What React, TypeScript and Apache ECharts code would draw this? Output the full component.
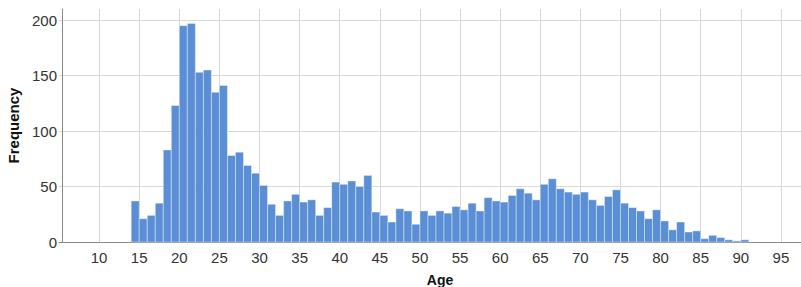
import React, { useEffect, useRef } from "react";
import * as echarts from "echarts";

// Histogram bins: each bin covers [binStart, binStart + 1)
const binStarts: number[] = [
  14, 15, 16, 17, 18, 19, 20, 21, 22, 23, 24, 25, 26, 27, 28, 29, 30, 31, 32, 33,
  34, 35, 36, 37, 38, 39, 40, 41, 42, 43, 44, 45, 46, 47, 48, 49, 50, 51, 52, 53,
  54, 55, 56, 57, 58, 59, 60, 61, 62, 63, 64, 65, 66, 67, 68, 69, 70, 71, 72, 73,
  74, 75, 76, 77, 78, 79, 80, 81, 82, 83, 84, 85, 86, 87, 88, 89, 90,
];
const frequencies: number[] = [
  37, 21, 24, 35, 83, 123, 195, 197, 153, 155, 135, 141, 78, 81, 69, 62, 51, 34, 24, 37,
  43, 36, 38, 24, 31, 54, 52, 55, 50, 60, 27, 24, 18, 30, 28, 16, 28, 24, 28, 26,
  32, 29, 35, 28, 40, 37, 36, 42, 48, 44, 38, 52, 57, 48, 45, 43, 45, 38, 33, 41,
  47, 35, 31, 28, 21, 29, 19, 11, 18, 9, 10, 3, 6, 4, 2, 1, 2,
];
const binWidth = 1;
const xTickValues: number[] = [10, 15, 20, 25, 30, 35, 40, 45, 50, 55, 60, 65, 70, 75, 80, 85, 90, 95];
const yTickValues: number[] = [0, 50, 100, 150, 200];

export default function App() {
  const ref = useRef<HTMLDivElement>(null);
  useEffect(() => {
    if (!ref.current) return;
    const chart = echarts.init(ref.current, undefined, { renderer: "svg" });
    const font = "'Liberation Sans', Arial, sans-serif";
    chart.setOption({
      animation: false,
      backgroundColor: "#ffffff",
      grid: { left: 59, right: -20, top: 9, bottom: 45, outerBoundsMode: "none", containLabel: false },
      xAxis: {
        type: "value",
        min: 5,
        max: 100,
        interval: 5,
        name: "Age",
        nameLocation: "middle",
        nameGap: 31,
        nameTextStyle: { fontFamily: font, fontWeight: "bold", fontSize: 14, color: "#111" },
        axisLine: { show: true, onZero: false, lineStyle: { color: "#8a8a8a", width: 1 } },
        axisTick: { show: false },
        axisLabel: {
          fontFamily: font,
          fontSize: 15,
          color: "#333",
          margin: 8,
          showMinLabel: false,
          formatter: (v: number) => (xTickValues.indexOf(v) >= 0 ? String(v) : ""),
        },
        splitLine: {
          show: true,
          showMinLine: false,
          lineStyle: { color: "#d8d8d8", width: 1 },
        },
      },
      yAxis: {
        type: "value",
        min: 0,
        max: 210,
        interval: 50,
        offset: -3,
        name: "Frequency",
        nameLocation: "middle",
        nameRotate: 90,
        nameGap: 35,
        nameTextStyle: { fontFamily: font, fontWeight: "bold", fontSize: 15, color: "#111" },
        axisLine: { show: true, lineStyle: { color: "#8a8a8a", width: 1 } },
        axisTick: { show: false },
        axisLabel: {
          fontFamily: font,
          fontSize: 15,
          color: "#333",
          margin: 5,
          showMaxLabel: false,
          formatter: (v: number) => (yTickValues.indexOf(v) >= 0 ? String(v) : ""),
        },
        splitLine: {
          show: true,
          showMaxLine: false,
          lineStyle: { color: "#d8d8d8", width: 1 },
        },
      },
      series: [
        {
          type: "custom",
          encode: { x: 0, y: 1 },
          data: binStarts.map((s, i) => [s, frequencies[i]]),
          renderItem: (params: any, api: any) => {
            const start = api.value(0);
            const val = api.value(1);
            const p0 = api.coord([start, 0]);
            const p1 = api.coord([start + binWidth, val]);
            return {
              type: "rect",
              shape: {
                x: p0[0],
                y: p1[1],
                width: p1[0] - p0[0],
                height: p0[1] - p1[1],
              },
              style: {
                fill: "#5a8ed5",
                stroke: "rgba(255,255,255,0.4)",
                lineWidth: 1,
              },
            };
          },
        },
      ],
    });
    return () => chart.dispose();
  }, []);
  return (
    <div
      ref={ref}
      style={{ position: "fixed", left: 0, top: 0, width: 801, height: 287 }}
    />
  );
}
